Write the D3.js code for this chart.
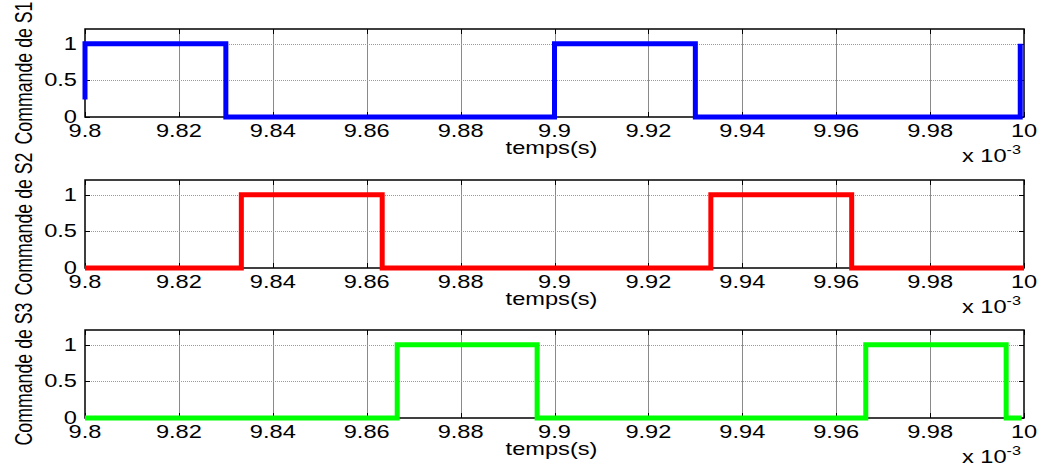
<!DOCTYPE html>
<html>
<head>
<meta charset="utf-8">
<script src="https://cdn.jsdelivr.net/npm/d3@7"></script>
<style>
  html, body { margin: 0; padding: 0; background: #fff; }
  svg { display: block; font-family: "Liberation Sans", Arial, Helvetica, sans-serif; }
</style>
</head>
<body>
<svg id="chart" width="1041" height="472"></svg>
<script>
// Switching commands of three legs, time in units of 1e-3 s
const s1Time  = [9.8, 9.8, 9.83, 9.83, 9.9, 9.9, 9.93, 9.93, 9.9992, 9.9992];
const s1Value = [0.24, 1, 1, 0, 0, 1, 1, 0, 0, 1];

const s2Time  = [9.8, 9.8333, 9.8333, 9.8633, 9.8633, 9.9333, 9.9333, 9.9633, 9.9633, 10];
const s2Value = [0, 0, 1, 1, 0, 0, 1, 1, 0, 0];

const s3Time  = [9.8, 9.8665, 9.8665, 9.8963, 9.8963, 9.9663, 9.9663, 9.9962, 9.9962, 9.9995];
const s3Value = [0, 0, 1, 1, 0, 0, 1, 1, 0, 0];

const xTicks = [9.8, 9.82, 9.84, 9.86, 9.88, 9.9, 9.92, 9.94, 9.96, 9.98, 10];
const xTickLabels = ["9.8", "9.82", "9.84", "9.86", "9.88", "9.9", "9.92", "9.94", "9.96", "9.98", "10"];
const yTicks = [0, 0.5, 1];
const yTickLabels = ["0", "0.5", "1"];
const yLabels = ["Commande de S1", "Commande de S2", "Commande de S3"];
const xLabel = "temps(s)";

const panels = [
  { time: s1Time, value: s1Value, color: "#0000ff", label: yLabels[0], top: 29 },
  { time: s2Time, value: s2Value, color: "#ff0000", label: yLabels[1], top: 180 },
  { time: s3Time, value: s3Value, color: "#00ff00", label: yLabels[2], top: 330 }
];

const svg = d3.select("#chart");
const left = 85, right = 1024, plotH = 88;
const sx = 1.35;          // horizontal stretch of the lettering
const fs = 17.5;

const x = d3.scaleLinear().domain([9.8, 10]).range([left, right]);

panels.forEach(p => {
  const y = d3.scaleLinear().domain([0, 1.2]).range([p.top + plotH, p.top]);
  const g = svg.append("g");
  const bottom = p.top + plotH;

  // grid
  g.selectAll(".vgrid").data(xTicks.slice(1, -1)).enter().append("line")
    .attr("x1", d => Math.round(x(d)) + 0.5).attr("x2", d => Math.round(x(d)) + 0.5)
    .attr("y1", p.top).attr("y2", bottom)
    .attr("stroke", "#8a8a8a").attr("stroke-width", 1);
  g.selectAll(".hgrid").data(yTicks.slice(1)).enter().append("line")
    .attr("x1", left).attr("x2", right)
    .attr("y1", d => Math.round(y(d)) + 0.5).attr("y2", d => Math.round(y(d)) + 0.5)
    .attr("stroke", "#9a9a9a").attr("stroke-width", 1).attr("stroke-dasharray", "1,1");

  // inward tick marks on all four sides
  const tl = 5;
  xTicks.forEach(t => {
    const xx = Math.round(x(t)) + 0.5;
    g.append("line").attr("x1", xx).attr("x2", xx).attr("y1", bottom).attr("y2", bottom - tl).attr("stroke", "#000");
    g.append("line").attr("x1", xx).attr("x2", xx).attr("y1", p.top).attr("y2", p.top + tl).attr("stroke", "#000");
  });
  yTicks.forEach(t => {
    const yy = Math.round(y(t)) + 0.5;
    g.append("line").attr("x1", left).attr("x2", left + tl).attr("y1", yy).attr("y2", yy).attr("stroke", "#000");
    g.append("line").attr("x1", right).attr("x2", right - tl).attr("y1", yy).attr("y2", yy).attr("stroke", "#000");
  });

  // frame
  g.append("rect").attr("x", left).attr("y", p.top).attr("width", right - left).attr("height", plotH)
    .attr("fill", "none").attr("stroke", "#000").attr("stroke-width", 1.5);

  // signal
  const pts = p.time.map((t, i) => [t, p.value[i]]);
  g.append("path").datum(pts)
    .attr("d", d3.line().x(d => x(d[0])).y(d => y(d[1])))
    .attr("fill", "none").attr("stroke", p.color).attr("stroke-width", 5)
    .attr("stroke-linejoin", "miter");

  // tick labels
  xTicks.forEach((t, i) => {
    g.append("text").attr("transform", `translate(${x(t)},${bottom + 19.5}) scale(${sx},1)`)
      .attr("text-anchor", "middle").attr("font-size", fs).text(xTickLabels[i]);
  });
  yTicks.forEach((t, i) => {
    g.append("text").attr("transform", `translate(${left - 8},${y(t) + 6}) scale(${sx},1)`)
      .attr("text-anchor", "end").attr("font-size", fs).text(yTickLabels[i]);
  });

  // axis titles
  g.append("text").attr("transform", `translate(${(left + right) / 2 - 3},${bottom + 37}) scale(${sx},1)`)
    .attr("text-anchor", "middle").attr("font-size", fs).text(xLabel);
  g.append("text").attr("transform", `translate(32,${p.top + plotH / 2}) scale(${sx},1) rotate(-90)`)
    .attr("text-anchor", "middle").attr("font-size", 18)
    .attr("textLength", 143).attr("lengthAdjust", "spacingAndGlyphs").text(p.label);

  // exponent of the time axis
  const ex = g.append("text").attr("transform", `translate(962,${bottom + 45}) scale(${sx},1)`)
    .attr("font-size", fs);
  ex.append("tspan").text("x 10");
  ex.append("tspan").attr("dy", -8).attr("font-size", 12).text("-3");
});
</script>
</body>
</html>
